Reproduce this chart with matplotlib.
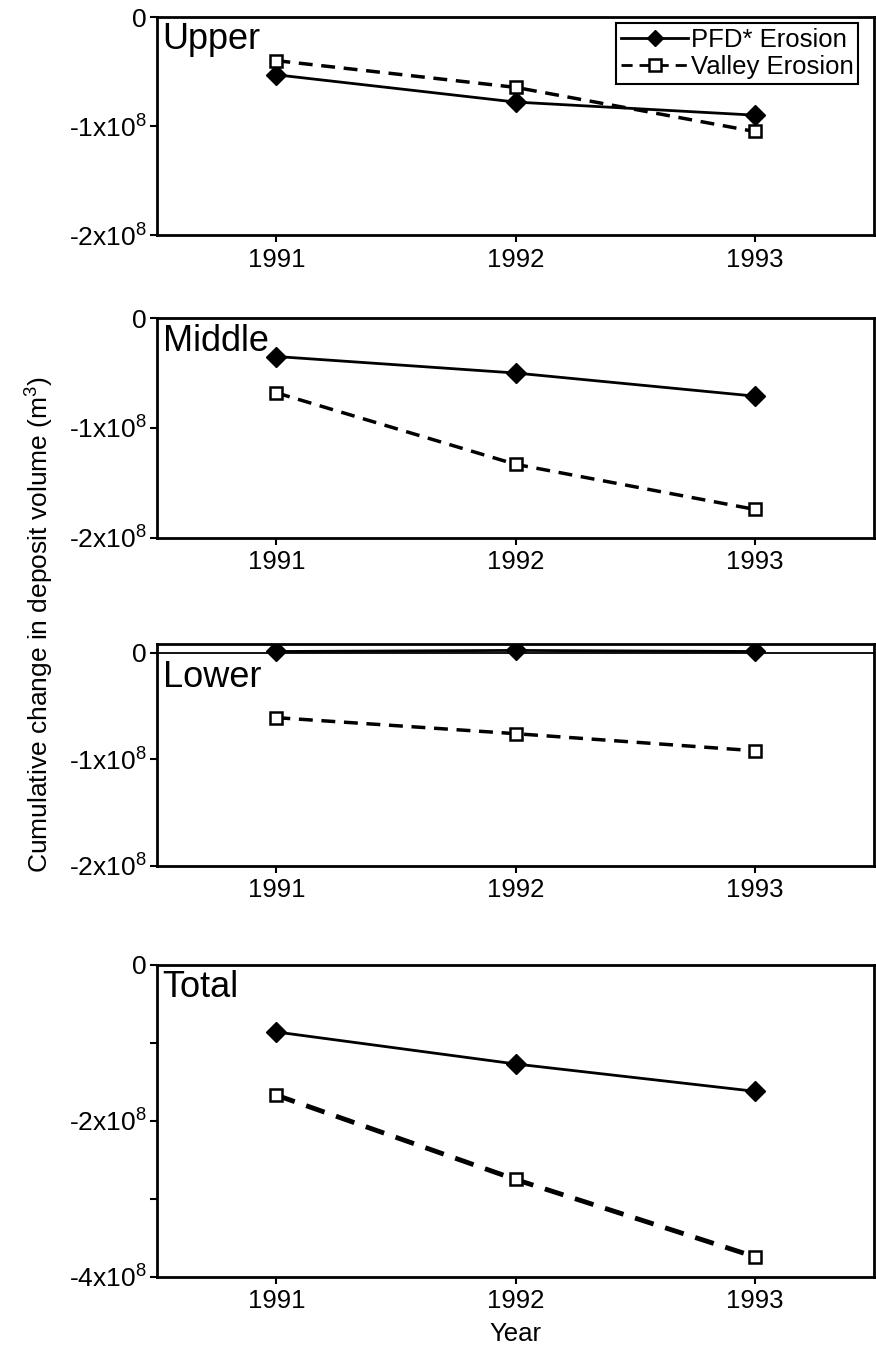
import numpy as np
from matplotlib import pyplot as plt

plt.rcParams['font.family'] = ['Liberation Sans', 'DejaVu Sans']
plt.rcParams['mathtext.fontset'] = 'custom'
plt.rcParams['mathtext.rm'] = 'Liberation Sans'
plt.rcParams['mathtext.it'] = 'Liberation Sans:italic'

# Datos (m3)
years = [1991, 1992, 1993]
upper_pfd = [-0.53e8, -0.78e8, -0.90e8]
upper_valley = [-0.40e8, -0.645e8, -1.05e8]
middle_pfd = [-0.35e8, -0.50e8, -0.71e8]
middle_valley = [-0.68e8, -1.33e8, -1.74e8]
lower_pfd = [0.01e8, 0.02e8, 0.01e8]
lower_valley = [-0.61e8, -0.76e8, -0.92e8]
total_pfd = [-0.86e8, -1.27e8, -1.62e8]
total_valley = [-1.67e8, -2.75e8, -3.74e8]

panel_names = ['Upper', 'Middle', 'Lower', 'Total']
series_labels = ['PFD* Erosion', 'Valley Erosion']
ticks_small = [0, -1e8, -2e8]
ticklabels_small = ['0', '-1x10$^8$', '-2x10$^8$']
ticks_total = [0, -1e8, -2e8, -3e8, -4e8]
ticklabels_total = ['0', '', '-2x10$^8$', '', '-4x10$^8$']

fig = plt.figure(figsize=(8.76, 13.51), dpi=100)

# posiciones [left, bottom, width, height]
boxes = [[0.179, 0.826, 0.819, 0.1614],
         [0.179, 0.6018, 0.819, 0.1628],
         [0.179, 0.359, 0.819, 0.1643],
         [0.179, 0.0548, 0.819, 0.231]]

data = [(upper_pfd, upper_valley), (middle_pfd, middle_valley),
        (lower_pfd, lower_valley), (total_pfd, total_valley)]
ylims = [(-2e8, 0), (-2e8, 0), (-2e8, 0.08e8), (-4e8, 0)]
label_y = [0.975, 0.975, 0.93, 0.985]

axes = []
for i in range(4):
    ax = fig.add_axes(boxes[i])
    pfd, valley = data[i]
    dash_lw = 3.5 if i == 3 else 2.5
    if i == 2:
        ax.axhline(y=0, color='black', lw=1.3, zorder=1)
    ax.plot(years, pfd, color='black', lw=2, marker='D', markersize=10,
            markerfacecolor='black', label=series_labels[0], zorder=3)
    ax.plot(years, valley, color='black', lw=dash_lw, dashes=(4, 2.5),
            marker='s', markersize=9, markerfacecolor='white',
            markeredgecolor='black', markeredgewidth=1.8,
            label=series_labels[1], zorder=3)
    ax.set_xlim(1990.5, 1993.5)
    ax.set_ylim(*ylims[i])
    ax.set_xticks(years)
    ax.set_xticklabels([str(y) for y in years])
    if i == 3:
        ax.set_yticks(ticks_total)
        ax.set_yticklabels(ticklabels_total)
    else:
        ax.set_yticks(ticks_small)
        ax.set_yticklabels(ticklabels_small)
    ax.tick_params(axis='x', direction='out', length=5, width=1.5, labelsize=18.5, pad=4)
    ax.tick_params(axis='y', direction='out', length=5, width=1.5, labelsize=19, pad=2)
    for s in ax.spines.values():
        s.set_linewidth(2)
    ax.text(0.008, label_y[i], panel_names[i], transform=ax.transAxes,
            fontsize=26, va='top', ha='left')
    axes.append(ax)

leg = axes[0].legend(loc='upper right', bbox_to_anchor=(0.978, 0.972),
                     borderaxespad=0, fancybox=False, edgecolor='black',
                     fontsize=18.5, handlelength=2.6, handletextpad=0.1,
                     borderpad=0.2, labelspacing=0.1, framealpha=1)
leg.get_frame().set_linewidth(1.5)
for h in leg.legend_handles:
    h.set_markersize(8)
    h.set_linewidth(2)

axes[3].set_xlabel('Year', fontsize=18.5, labelpad=6)
fig.text(0.046, 0.538, 'Cumulative change in deposit volume (m$^3$)',
         rotation=90, fontsize=19, ha='center', va='center')

plt.savefig('out.png', dpi=100)
